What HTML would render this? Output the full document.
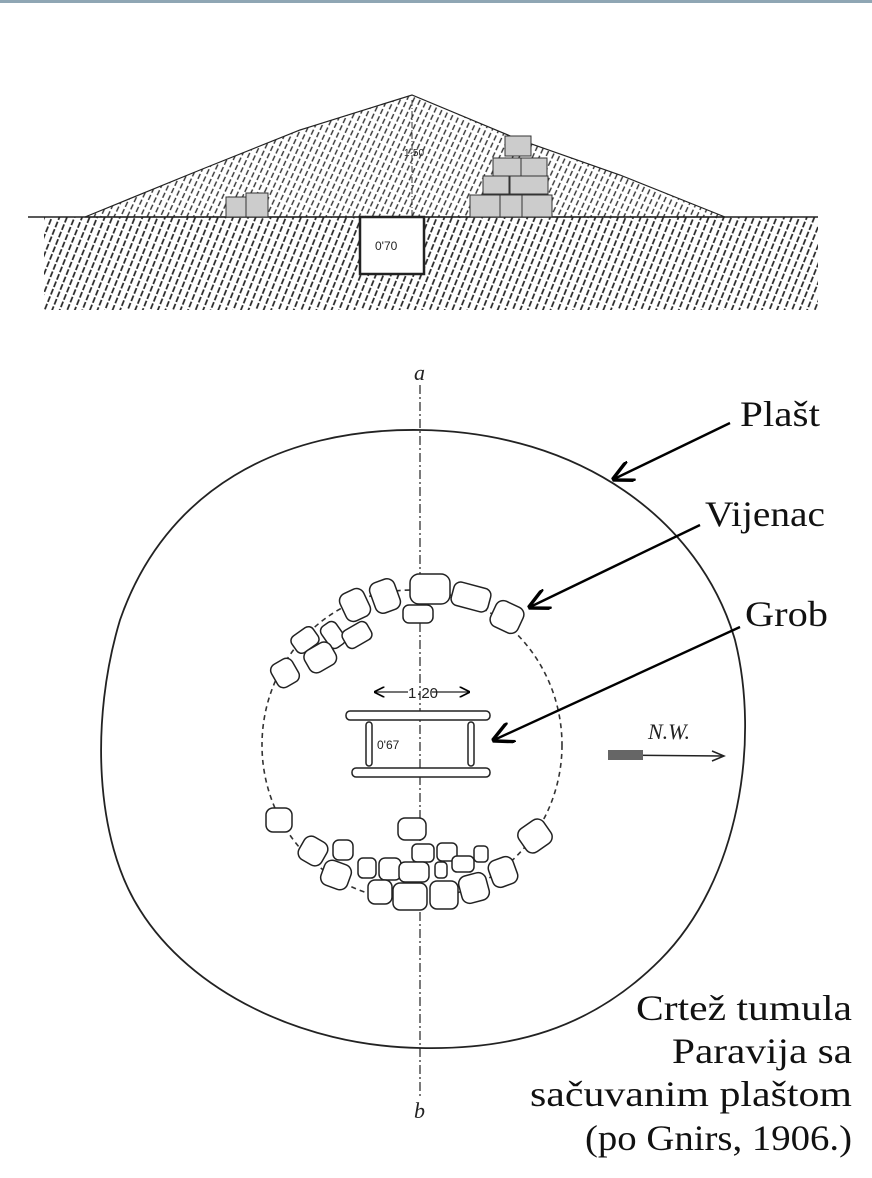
<!DOCTYPE html>
<html><head><meta charset="utf-8"><style>
html,body{margin:0;padding:0;background:#fff;width:872px;height:1178px;overflow:hidden}
svg{display:block}
.t{font-family:"Liberation Serif",serif;font-size:36px;fill:#111}
</style></head><body>
<svg width="872" height="1178" viewBox="0 0 872 1178" xmlns="http://www.w3.org/2000/svg">
<defs>
<pattern id="h" width="7" height="8" patternUnits="userSpaceOnUse" patternTransform="rotate(22)">
<line x1="3.5" y1="0" x2="3.5" y2="6" stroke="#222" stroke-width="1.7"/>
</pattern>
<pattern id="h2" width="6" height="8" patternUnits="userSpaceOnUse" patternTransform="rotate(25)">
<line x1="3" y1="1" x2="3" y2="6.5" stroke="#333" stroke-width="1.4"/>
</pattern>
<marker id="ar" viewBox="0 0 10 10" refX="9" refY="5" markerWidth="9" markerHeight="9" orient="auto-start-reverse">
<path d="M0,0 L10,5 L0,10" fill="none" stroke="#000" stroke-width="1.6"/>
</marker>
</defs>
<rect x="0" y="0" width="872" height="3" fill="#8fa6b4"/>
<rect x="44" y="217" width="774" height="93" fill="url(#h)"/>
<polygon points="85,217 200,170 300,130 412,95 520,140 620,175 725,217" fill="url(#h2)" stroke="#222" stroke-width="1.2"/>
<line x1="28" y1="217" x2="818" y2="217" stroke="#222" stroke-width="1.5"/>
<line x1="412" y1="100" x2="412" y2="217" stroke="#333" stroke-width="1" stroke-dasharray="6,2,1,2"/>
<text x="404" y="156" font-family="Liberation Sans,sans-serif" font-size="10" fill="#222">1·50</text>
<g fill="#ccc" stroke="#333" stroke-width="1">
<rect x="226" y="197" width="20" height="20"/><rect x="246" y="193" width="22" height="24"/>
<rect x="505" y="136" width="26" height="20"/><rect x="493" y="158" width="28" height="18"/><rect x="521" y="158" width="26" height="18"/>
<rect x="483" y="176" width="26" height="18"/><rect x="510" y="176" width="38" height="18"/>
<rect x="470" y="195" width="30" height="22"/><rect x="500" y="195" width="22" height="22"/><rect x="522" y="195" width="30" height="22"/>
</g>
<rect x="360" y="217" width="64" height="57" fill="#fff" stroke="#222" stroke-width="2.5"/>
<text x="375" y="250" font-family="Liberation Sans,sans-serif" font-size="12" fill="#222">0'70</text>
<path d="M420,430 C580,432 700,520 735,640 C760,740 740,880 660,960 C590,1030 510,1050 420,1048 C300,1046 190,990 140,910 C95,840 90,720 120,620 C165,490 280,428 420,430 Z" fill="none" stroke="#222" stroke-width="1.8"/>
<ellipse cx="412" cy="745" rx="150" ry="155" fill="none" stroke="#333" stroke-width="1.6" stroke-dasharray="5,4"/>
<line x1="420" y1="385" x2="420" y2="1097" stroke="#222" stroke-width="1.2" stroke-dasharray="9,3,2,3"/>
<text x="414" y="380" font-family="Liberation Serif,serif" font-style="italic" font-size="22" fill="#222">a</text>
<text x="414" y="1118" font-family="Liberation Serif,serif" font-style="italic" font-size="22" fill="#222">b</text>
<g fill="#fff" stroke="#222" stroke-width="1.5">
<rect x="410" y="574" width="40" height="30" rx="9"/>
<rect x="403" y="605" width="30" height="18" rx="6"/>
<rect x="452" y="585" width="38" height="24" rx="7" transform="rotate(15 471 597)"/>
<rect x="492" y="603" width="30" height="28" rx="8" transform="rotate(25 507 617)"/>
<rect x="372" y="580" width="26" height="32" rx="8" transform="rotate(-20 385 596)"/>
<rect x="342" y="590" width="26" height="30" rx="8" transform="rotate(-25 355 605)"/>
<rect x="324" y="622" width="18" height="26" rx="6" transform="rotate(-35 333 635)"/>
<rect x="343" y="625" width="28" height="20" rx="6" transform="rotate(-30 357 635)"/>
<rect x="292" y="630" width="26" height="20" rx="6" transform="rotate(-35 305 640)"/>
<rect x="305" y="645" width="30" height="25" rx="8" transform="rotate(-30 320 657)"/>
<rect x="273" y="660" width="24" height="26" rx="7" transform="rotate(-30 285 673)"/>
<rect x="346" y="711" width="144" height="9" rx="4"/>
<rect x="352" y="768" width="138" height="9" rx="4"/>
<rect x="366" y="722" width="6" height="44" rx="3"/>
<rect x="468" y="722" width="6" height="44" rx="3"/>
<rect x="266" y="808" width="26" height="24" rx="7"/>
<rect x="398" y="818" width="28" height="22" rx="7"/>
<rect x="300" y="838" width="26" height="26" rx="8" transform="rotate(30 313 851)"/>
<rect x="333" y="840" width="20" height="20" rx="6"/>
<rect x="412" y="844" width="22" height="18" rx="5"/>
<rect x="437" y="843" width="20" height="18" rx="5"/>
<rect x="322" y="862" width="28" height="26" rx="8" transform="rotate(20 336 875)"/>
<rect x="358" y="858" width="18" height="20" rx="5"/>
<rect x="379" y="858" width="22" height="22" rx="6"/>
<rect x="399" y="862" width="30" height="20" rx="6"/>
<rect x="435" y="862" width="12" height="16" rx="4"/>
<rect x="452" y="856" width="22" height="16" rx="5"/>
<rect x="474" y="846" width="14" height="16" rx="4"/>
<rect x="490" y="858" width="26" height="28" rx="8" transform="rotate(-20 503 872)"/>
<rect x="520" y="822" width="30" height="28" rx="8" transform="rotate(-35 535 836)"/>
<rect x="368" y="880" width="24" height="24" rx="7"/>
<rect x="393" y="883" width="34" height="27" rx="7"/>
<rect x="430" y="881" width="28" height="28" rx="7"/>
<rect x="460" y="874" width="28" height="28" rx="8" transform="rotate(-15 474 888)"/>
</g>
<line x1="375" y1="692" x2="408" y2="692" stroke="#222" stroke-width="1.2" marker-start="url(#ar)"/>
<line x1="432" y1="692" x2="469" y2="692" stroke="#222" stroke-width="1.2" marker-end="url(#ar)"/>
<text x="408" y="698" font-family="Liberation Sans,sans-serif" font-size="15" fill="#222">1·20</text>
<text x="377" y="749" font-family="Liberation Sans,sans-serif" font-size="12" fill="#222">0'67</text>
<line x1="608" y1="755" x2="722" y2="756" stroke="#222" stroke-width="1.5"/>
<path d="M712,751 L724,756 L712,761" fill="none" stroke="#222" stroke-width="1.5"/>
<rect x="608" y="750" width="35" height="10" fill="#666"/>
<text x="648" y="739" font-family="Liberation Serif,serif" font-style="italic" font-size="22" fill="#222">N.W.</text>
<g stroke="#000" stroke-width="2.4" fill="none">
<line x1="730" y1="423" x2="614" y2="479" marker-end="url(#ar)"/>
<line x1="700" y1="525" x2="530" y2="607" marker-end="url(#ar)"/>
<line x1="740" y1="627" x2="494" y2="740" marker-end="url(#ar)"/>
</g>
<text class="t" x="740" y="426" textLength="80" lengthAdjust="spacingAndGlyphs">Plašt</text>
<text class="t" x="705" y="526" textLength="120" lengthAdjust="spacingAndGlyphs">Vijenac</text>
<text class="t" x="745" y="626" textLength="83" lengthAdjust="spacingAndGlyphs">Grob</text>
<g class="t">
<text x="636" y="1020" textLength="216" lengthAdjust="spacingAndGlyphs">Crtež tumula</text>
<text x="672" y="1063" textLength="180" lengthAdjust="spacingAndGlyphs">Paravija sa</text>
<text x="530" y="1106" textLength="322" lengthAdjust="spacingAndGlyphs">sačuvanim plaštom</text>
<text x="585" y="1150" textLength="267" lengthAdjust="spacingAndGlyphs">(po Gnirs, 1906.)</text>
</g>
</svg>
</body></html>
